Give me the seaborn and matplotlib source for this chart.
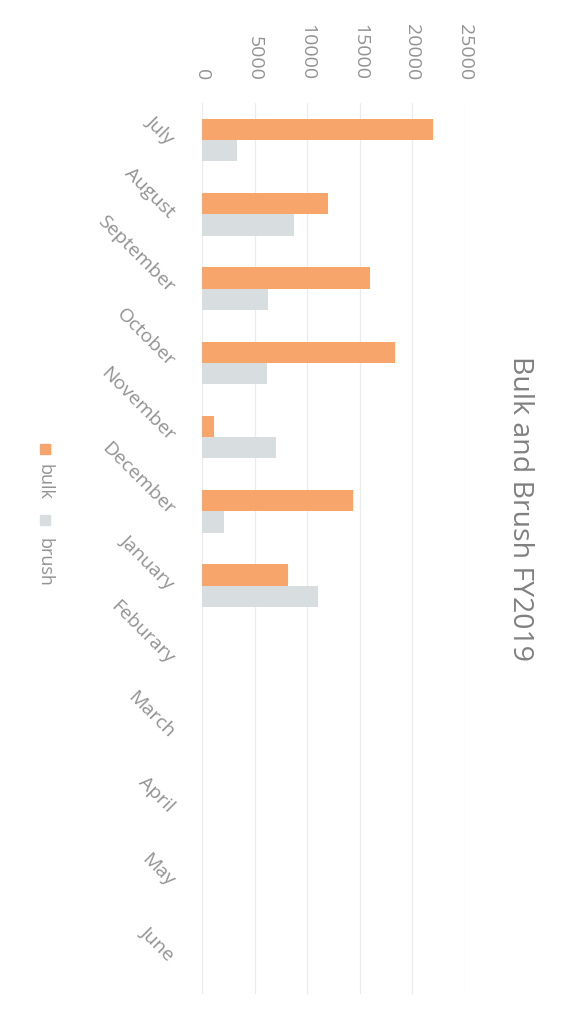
import pandas as pd
import seaborn as sns
import matplotlib.pyplot as plt
from matplotlib.patches import Rectangle

months = ['July', 'August', 'September', 'October', 'November', 'December',
          'January', 'Feburary', 'March', 'April', 'May', 'June']
series = ['bulk', 'brush']
bulk = [22000, 12000, 16000, 18300, 1150, 14400, 8200]
brush = [3350, 8750, 6300, 6200, 7050, 2100, 11000]
x_ticks = [0, 5000, 10000, 15000, 20000, 25000]
title = 'Bulk and Brush FY2019'
colors = ['#F8A56C', '#D8DDDF']
text_color = '#929292'


def main():
    rows = []
    for i, v in enumerate(bulk):
        rows.append({'month': months[i], 'series': 'bulk', 'value': v})
    for i, v in enumerate(brush):
        rows.append({'month': months[i], 'series': 'brush', 'value': v})
    df = pd.DataFrame(rows)

    sns.set_style('white')
    plt.rcParams['font.family'] = ['Open Sans', 'DejaVu Sans']

    fig = plt.figure(figsize=(5.65, 10.2), dpi=100)
    ax = fig.add_axes([0.3575, 0.0245, 0.4655, 0.8735])

    sns.barplot(data=df, y='month', x='value', hue='series', order=months,
                hue_order=series, palette=colors, orient='h', width=0.57,
                gap=0, errorbar=None, saturation=1, linewidth=0,
                legend=False, ax=ax)

    ax.set_xlim(0, 25000)
    ax.set_ylim(11.5, -0.5)
    ax.set_xlabel('')
    ax.set_ylabel('')
    for s in ax.spines.values():
        s.set_visible(False)
    ax.grid(axis='x', color='#ebebeb', lw=0.9)
    ax.grid(axis='y', visible=False)
    ax.set_axisbelow(True)

    ax.xaxis.tick_top()
    ax.set_xticks(x_ticks)
    ax.set_xticklabels([str(t) for t in x_ticks])
    ax.tick_params(axis='x', length=0, pad=17, labelrotation=-90,
                   labelsize=14, labelcolor=text_color)

    ax.set_yticks(range(len(months)))
    ax.set_yticklabels(months, rotation=-45, ha='right', va='center',
                       rotation_mode='anchor')
    ax.tick_params(axis='y', length=0, pad=22, labelsize=14,
                   labelcolor=text_color)

    fig.text(0.920, 0.501, title, rotation=-90, ha='center', va='center',
             fontsize=20.5, color='#808080')

    # legend drawn by hand, rotated like the rest of the chart
    leg_y = [(0.559, 0.528), (0.489, 0.449)]
    for (sq_y, txt_y), name, c in zip(leg_y, series, colors):
        fig.patches.append(Rectangle((0.0796 - 0.009, sq_y - 0.005), 0.018, 0.01,
                                     transform=fig.transFigure, color=c))
        fig.text(0.0796, txt_y, name, rotation=-90, ha='center', va='center',
                 fontsize=13, color=text_color)

    fig.savefig('out.png', dpi=100)
    plt.close(fig)


if __name__ == '__main__':
    main()
